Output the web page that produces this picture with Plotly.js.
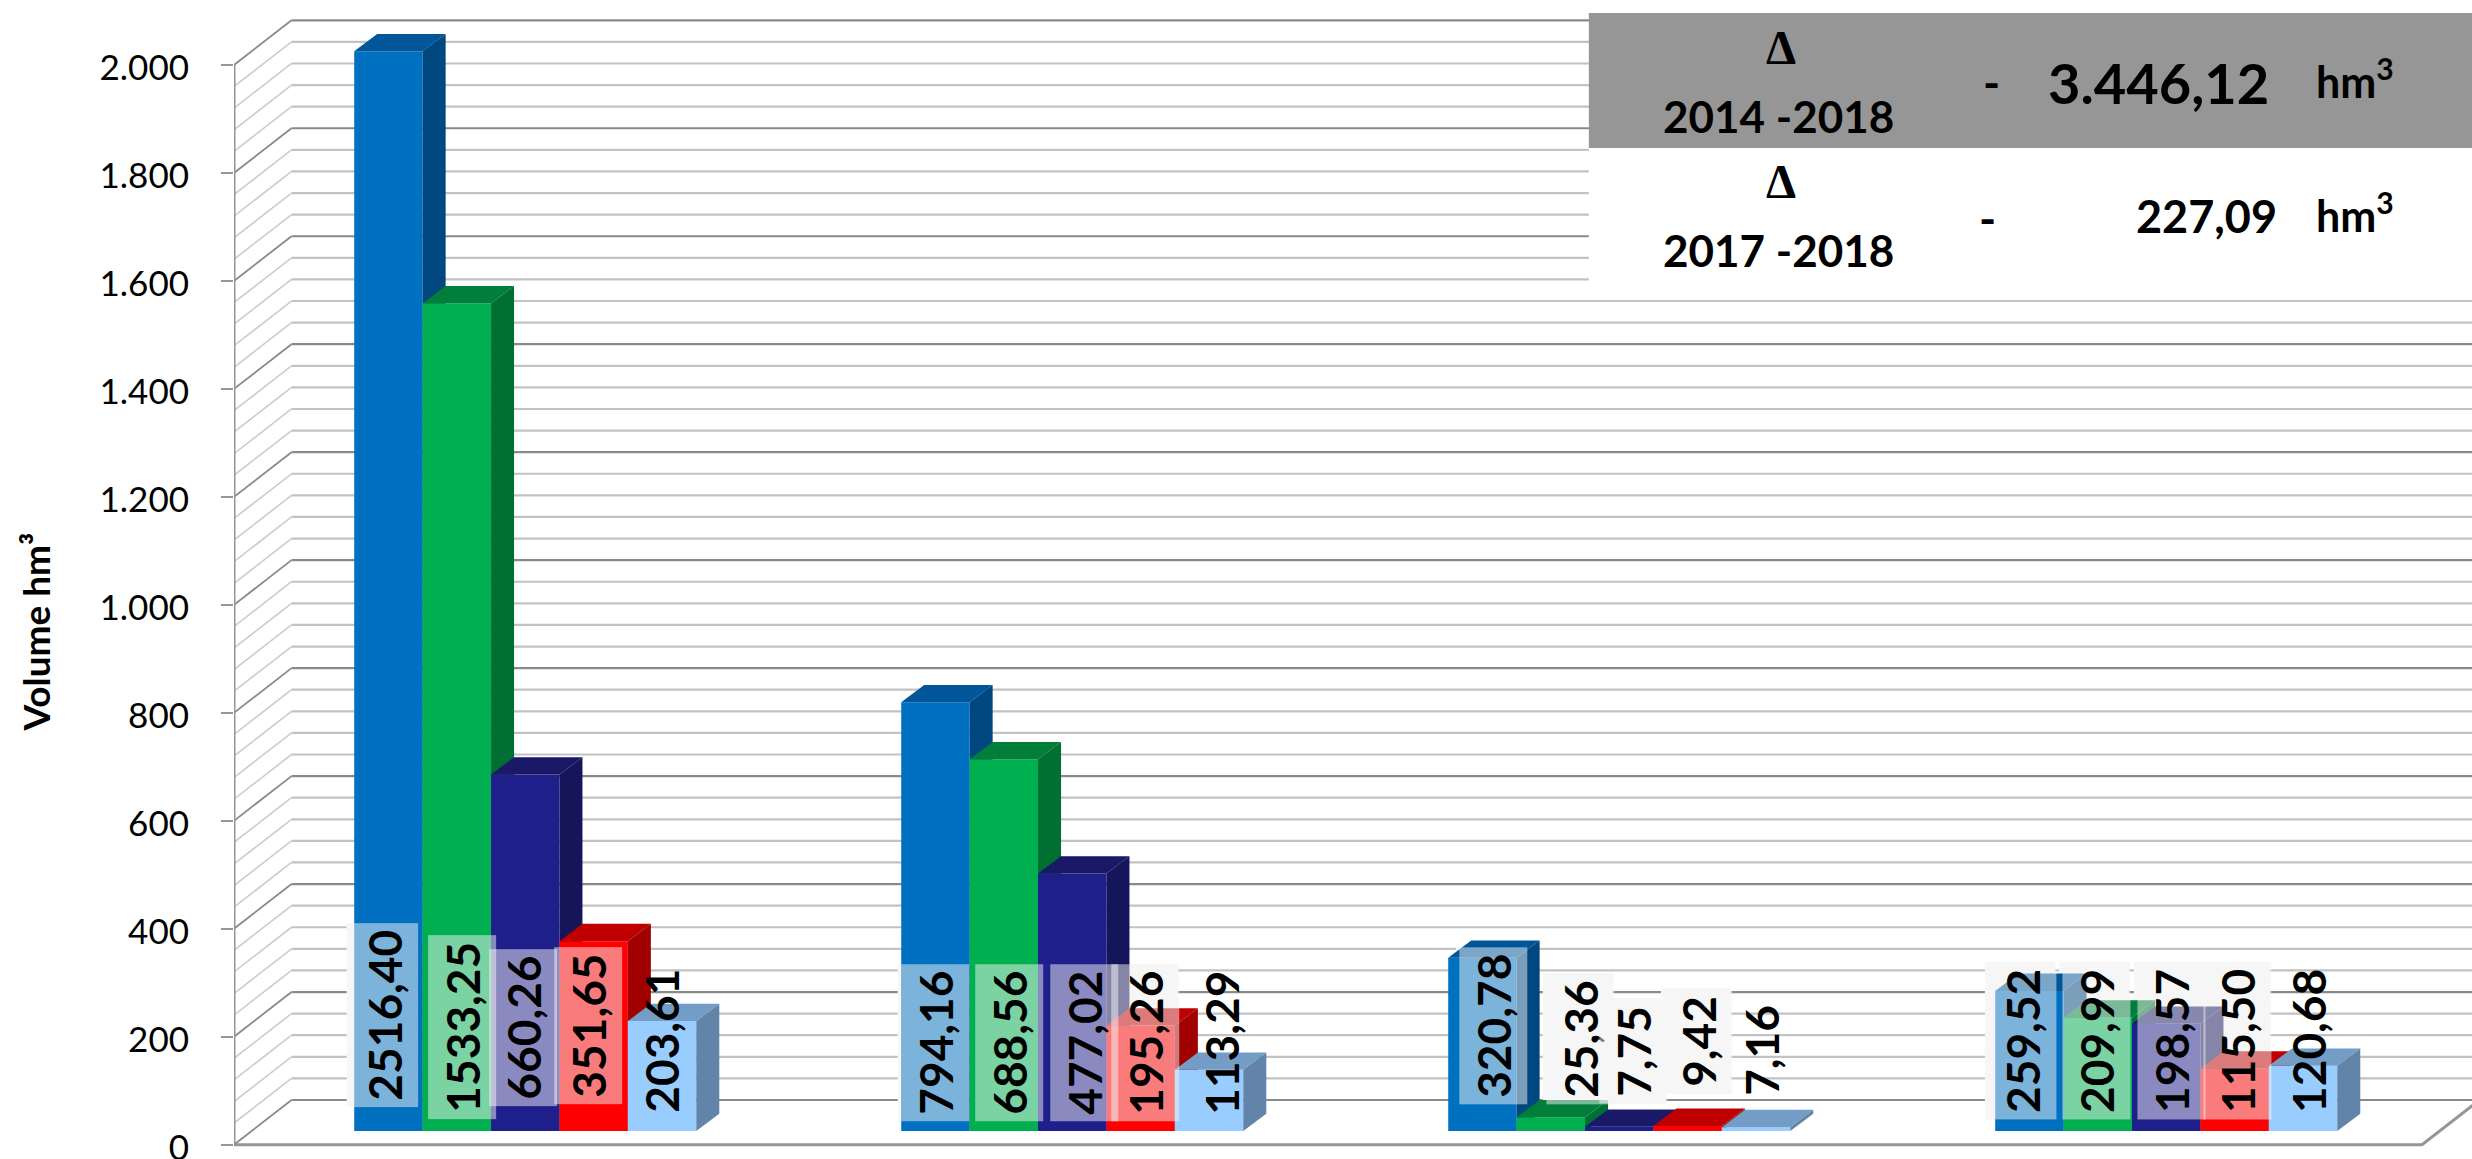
<!DOCTYPE html>
<html><head><meta charset="utf-8">
<script src="https://cdn.plot.ly/plotly-3.0.1.min.js"></script>
<style>html,body{margin:0;padding:0;background:#fff}#chart{width:2472px;height:1159px}</style>
</head><body><div id="chart"></div>
<script>
// ---- data ----
const seriesA = [2516.40, 794.16, 320.78, 259.52];
const seriesB = [1533.25, 688.56, 25.36, 209.99];
const seriesC = [660.26, 477.02, 7.75, 198.57];
const seriesD = [351.65, 195.26, 9.42, 115.50];
const seriesE = [203.61, 113.29, 7.16, 120.68];
const labelsA = ['2516,40', '794,16', '320,78', '259,52'];
const labelsB = ['1533,25', '688,56', '25,36', '209,99'];
const labelsC = ['660,26', '477,02', '7,75', '198,57'];
const labelsD = ['351,65', '195,26', '9,42', '115,50'];
const labelsE = ['203,61', '113,29', '7,16', '120,68'];
const yTicks = [0, 200, 400, 600, 800, 1000, 1200, 1400, 1600, 1800, 2000];
const yMinor = [40, 80, 120, 160, 240, 280, 320, 360, 440, 480, 520, 560, 640, 680, 720, 760, 840, 880, 920, 960, 1040, 1080, 1120, 1160, 1240, 1280, 1320, 1360, 1440, 1480, 1520, 1560, 1640, 1680, 1720, 1760, 1840, 1880, 1920, 1960];
const axisTitle = 'Volume hm³';
const tableRows = [
  {period: '2014 -2018', amount: '3.446,12'},
  {period: '2017 -2018', amount: '227,09'}
];

// ---- styling & geometry ----
const W = 2472, H = 1159, L = 234.4, ZERO = 1144.7, PPU = 0.53985, CAT = 546.9;
const X = p => (p - L) / CAT, Y = p => (ZERO - p) / PPU;
const PX = p => (p - L) / (W - L), PY = p => 1 - p / H;
const wallDX = 57.5 / CAT, wallDY = 44.7 / PPU;     // depth of the side wall
const barDX = 23 / CAT, barDY = 17.3 / PPU;         // depth of a bar
const barLift = 13.7 / PPU;                         // bars stand inside the floor
const barW = 68.4 / CAT, firstBar = X(354.6);
const yMax = 2000;
const majorC = '#8a8a8a', minorC = '#c2c2c2', minorWall = '#cccccc';

const series = [
  {v: seriesA, t: labelsA, front: '#0070C0', top: '#005698', side: '#00467F', box: true},
  {v: seriesB, t: labelsB, front: '#00B050', top: '#007E3A', side: '#006F32', box: true},
  {v: seriesC, t: labelsC, front: '#1F1F8C', top: '#191968', side: '#15155A', box: true},
  {v: seriesD, t: labelsD, front: '#FF0000', top: '#C00000', side: '#A00000', box: true},
  {v: seriesE, t: labelsE, front: '#99CCFF', top: '#739DC6', side: '#6184A8', box: false}
];
// centres of the value labels on the page (per series, per group)
const labelPosX = [[384, 935, 1493, 2022], [462, 1009, 1580, 2096], [523, 1084, 1633, 2171], [588, 1145, 1698, 2237], [661, 1221, 1761, 2308]];
const labelPosY = [[1015, 1043, 1026, 1041], [1027, 1043, 1039, 1041], [1028, 1043, 1051, 1041], [1026, 1043, 1041, 1041], [1041, 1043, 1050, 1041]];
const labelFont = 46, labelPad = 6;

const traces = [];
// walls
const xRight = 4;
const xEnd = X(W);
function linesTrace(vals, color, width) {
  const x = [], y = [];
  vals.forEach(v => { x.push(wallDX, xEnd, null); y.push(v + wallDY, v + wallDY, null); });
  return {type: 'scatter', mode: 'lines', x, y, line: {color, width}, hoverinfo: 'skip', showlegend: false, xaxis: 'x', yaxis: 'y'};
}
function diagTrace(vals, color, width) {
  const x = [], y = [];
  vals.forEach(v => { x.push(0, wallDX, null); y.push(v, v + wallDY, null); });
  return {type: 'scatter', mode: 'lines', x, y, line: {color, width}, hoverinfo: 'skip', showlegend: false, xaxis: 'x', yaxis: 'y'};
}
traces.push(linesTrace(yMinor, minorC, 2.2));
traces.push(diagTrace(yMinor, minorWall, 1.6));
traces.push(linesTrace(yTicks, majorC, 2.2));
traces.push(diagTrace(yTicks, '#8a8a8a', 1.8));
// floor front edge, right edge and the front vertical of the wall
traces.push({type: 'scatter', mode: 'lines', x: [0, 0, xRight, xRight + wallDX], y: [yMax, 0, 0, wallDY],
  line: {color: '#959595', width: 3}, hoverinfo: 'skip', showlegend: false, xaxis: 'x', yaxis: 'y'});

// pale plates of the value labels: they hide the grid behind them, below the bars
const plateX = [], plateY = [];
series.forEach((s, i) => { if (s.box) s.t.forEach((txt, g) => {
  const cx = labelPosX[i][g] - 2, cy = labelPosY[i][g], hw = 35, hh = (26 * txt.length + 2) / 2;
  plateX.push(X(cx - hw), X(cx + hw), X(cx + hw), X(cx - hw), X(cx - hw), null);
  plateY.push(Y(cy + hh), Y(cy + hh), Y(cy - hh), Y(cy - hh), Y(cy + hh), null);
}); });
traces.push({type: 'scatter', mode: 'lines', x: plateX, y: plateY, fill: 'toself', fillcolor: '#f7f7f7',
  line: {width: 0, color: '#f7f7f7'}, hoverinfo: 'skip', showlegend: false, xaxis: 'x', yaxis: 'y'});

// bars: one overlaid subplot per series keeps the depth stacking right
series.forEach((s, i) => {
  const ya = 'y' + (i + 2);
  const x = s.v.map((_, g) => g + firstBar + (i + 0.5) * barW);
  const h = s.v.map(v => Math.min(v, yMax));
  traces.push({type: 'bar', x, y: h, base: h.map(() => barLift), width: barW,
    marker: {color: s.front, line: {width: 0}}, hoverinfo: 'skip', showlegend: false, xaxis: 'x', yaxis: ya});
  const tx = [], ty = [], sx = [], sy = [];
  h.forEach((v, g) => {
    const x1 = g + firstBar + i * barW, x2 = x1 + barW, b = barLift, t = barLift + v;
    tx.push(x1, x2, x2 + barDX, x1 + barDX, x1, null);
    ty.push(t, t, t + barDY, t + barDY, t, null);
    sx.push(x2, x2 + barDX, x2 + barDX, x2, x2, null);
    sy.push(b, b + barDY, t + barDY, t, b, null);
  });
  const face = (fx, fy, c) => ({type: 'scatter', mode: 'lines', x: fx, y: fy, fill: 'toself', fillcolor: c,
    line: {width: 0, color: c}, hoverinfo: 'skip', showlegend: false, xaxis: 'x', yaxis: ya});
  traces.push(face(tx, ty, s.top), face(sx, sy, s.side));
});

// value labels
const ann = [];
series.forEach((s, i) => s.t.forEach((txt, g) => {
  const a = {xref: 'x', yref: 'y', x: X(labelPosX[i][g]), y: Y(labelPosY[i][g]), text: txt, textangle: -90, showarrow: false,
    xanchor: 'center', yanchor: 'middle', font: {family: 'Lato', size: labelFont, color: '#000', weight: 700}, borderpad: labelPad};
  if (s.box) a.bgcolor = 'rgba(245,245,245,0.5)';
  ann.push(a);
}));
// y axis title
ann.push({xref: 'paper', yref: 'paper', x: PX(35), y: PY(632), text: axisTitle, textangle: -90, showarrow: false,
  xanchor: 'center', yanchor: 'middle', font: {family: 'Lato', size: 37, color: '#000', weight: 700}});
// delta table
function tt(px, py, text, size, family) {
  ann.push({xref: 'paper', yref: 'paper', x: PX(px), y: PY(py), text, showarrow: false, xanchor: 'center', yanchor: 'middle',
    font: {family: family || 'Lato', size, color: '#000', weight: 700}});
}
tt(1781, 47, 'Δ', 48, 'Liberation Serif');
tt(1779, 116, tableRows[0].period, 44);
tt(1992, 83, '-', 46);
tt(2159, 82, tableRows[0].amount, 56);
tt(2355, 78, 'hm<sup>3</sup>', 43);
tt(1781, 182, 'Δ', 48, 'Liberation Serif');
tt(1779, 250, tableRows[1].period, 44);
tt(1988, 218, '-', 46);
tt(2207, 216, tableRows[1].amount, 45);
tt(2355, 212, 'hm<sup>3</sup>', 43);

const rng = [Y(H), Y(0)];
const labelShift = 3 / PPU;   // the tick labels sit a little below their tick marks
const layout = {
  width: W, height: H, margin: {l: L, r: 0, t: 0, b: 0, pad: 0},
  paper_bgcolor: '#fff', plot_bgcolor: '#fff', separators: ',.', showlegend: false, barmode: 'overlay',
  xaxis: {range: [0, xEnd], showgrid: false, zeroline: false, showline: false, ticks: '', showticklabels: false, fixedrange: true},
  yaxis: {range: rng, tickmode: 'array', tickvals: yTicks, showticklabels: false, showgrid: false, zeroline: false, showline: false,
    ticks: 'outside', ticklen: 12, tickwidth: 2, tickcolor: '#959595', fixedrange: true},
  yaxis7: {range: [rng[0] + labelShift, rng[1] + labelShift], overlaying: 'y', side: 'left', tickmode: 'array', tickvals: yTicks,
    tickformat: ',d', showgrid: false, zeroline: false, showline: false, ticks: '', ticklabelstandoff: 44, ticklabeloverflow: 'allow',
    tickfont: {family: 'Lato', size: 35, color: '#000'}, fixedrange: true},
  shapes: [
    {type: 'rect', xref: 'paper', yref: 'paper', x0: PX(1589), x1: 1, y0: PY(13), y1: PY(148), fillcolor: '#969696', line: {width: 0}, layer: 'above'},
    {type: 'rect', xref: 'paper', yref: 'paper', x0: PX(1589), x1: 1, y0: PY(148), y1: PY(287), fillcolor: '#ffffff', line: {width: 0}, layer: 'above'}
  ],
  annotations: ann
};
[2, 3, 4, 5, 6].forEach(n => {
  layout['yaxis' + n] = {range: rng, overlaying: 'y', visible: false, fixedrange: true, showgrid: false, zeroline: false};
});
// a trace without marks gives the label axis a subplot to live on
traces.unshift({type: 'scatter', mode: 'lines', x: [0], y: [0], xaxis: 'x', yaxis: 'y7', hoverinfo: 'skip', showlegend: false});
Plotly.newPlot('chart', traces, layout, {displayModeBar: false, staticPlot: true});
</script></body></html>
